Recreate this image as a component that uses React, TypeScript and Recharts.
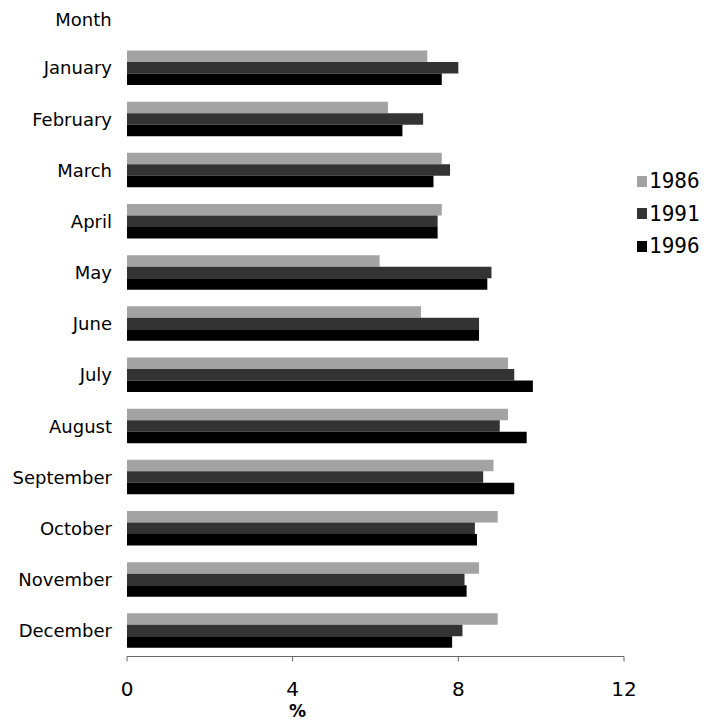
import { BarChart, Bar, XAxis, YAxis, Legend } from "recharts";

const months = [
  "January",
  "February",
  "March",
  "April",
  "May",
  "June",
  "July",
  "August",
  "September",
  "October",
  "November",
  "December",
];

const y1986 = [7.25, 6.3, 7.6, 7.6, 6.1, 7.1, 9.2, 9.2, 8.85, 8.95, 8.5, 8.95];
const y1991 = [8.0, 7.15, 7.8, 7.5, 8.8, 8.5, 9.35, 9.0, 8.6, 8.4, 8.15, 8.1];
const y1996 = [7.6, 6.65, 7.4, 7.5, 8.7, 8.5, 9.8, 9.65, 9.35, 8.45, 8.2, 7.85];

const xTicks = [0, 4, 8, 12];

const data = months.map((month, i) => ({
  month,
  y1986: y1986[i],
  y1991: y1991[i],
  y1996: y1996[i],
}));

// legend drawn at the right, outside the plot
const LegendBox = (props: any) => {
  const { payload = [] } = props;
  return (
    <div style={{ fontFamily: "DejaVu Sans Mono", fontSize: 21, color: "#000" }}>
      {payload.map((entry: any) => (
        <div
          key={entry.value}
          style={{ display: "flex", alignItems: "center", height: 32.5 }}
        >
          <span
            style={{
              width: 10,
              height: 11,
              background: entry.color,
              marginRight: 2,
              display: "inline-block",
            }}
          />
          <span>{entry.value}</span>
        </div>
      ))}
    </div>
  );
};

export default function App() {
  return (
    <BarChart
      width={702}
      height={714}
      data={data}
      layout="vertical"
      barGap={0}
      barSize={11.5}
      margin={{ top: 34.5, right: 6, bottom: 5.5, left: 0 }}
    >
      <XAxis
        type="number"
        domain={[0, 12]}
        ticks={xTicks}
        height={60}
        tickSize={5}
        tickMargin={20}
        stroke="#666"
        tick={{ fill: "#000", fontSize: 20, fontFamily: "DejaVu Sans" }}
        label={{
          value: "%",
          position: "insideBottom",
          offset: 0,
          dx: -78,
          fill: "#000",
          fontSize: 17,
          fontWeight: "bold",
          fontFamily: "DejaVu Sans",
        }}
      />
      <YAxis
        type="category"
        dataKey="month"
        width={119}
        axisLine={false}
        tickLine={false}
        tickSize={0}
        tickMargin={15}
        tick={{ fill: "#000", fontSize: 18, fontFamily: "DejaVu Sans" }}
        label={{
          value: "Month",
          position: "top",
          offset: 17,
          dx: 16,
          fill: "#000",
          fontSize: 18,
          fontFamily: "DejaVu Sans",
        }}
      />
      <Legend
        layout="vertical"
        verticalAlign="top"
        align="right"
        content={<LegendBox />}
        wrapperStyle={{ position: "absolute", left: 629, top: 157, width: 80 }}
      />
      <Bar dataKey="y1986" name="1986" fill="#a3a3a3" isAnimationActive={false} />
      <Bar dataKey="y1991" name="1991" fill="#333333" isAnimationActive={false} />
      <Bar dataKey="y1996" name="1996" fill="#000000" isAnimationActive={false} />
    </BarChart>
  );
}
